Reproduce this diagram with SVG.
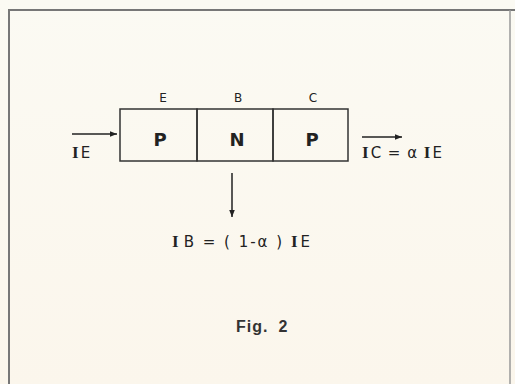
<svg xmlns="http://www.w3.org/2000/svg" width="515" height="384" viewBox="0 0 515 384">
<defs>
<marker id="ah" viewBox="0 0 10 10" refX="10" refY="5" markerWidth="11" markerHeight="7" markerUnits="userSpaceOnUse" orient="auto">
<path d="M0,1 L10,5 L0,9 Z" fill="#222"/>
</marker>
<linearGradient id="bg" x1="0" y1="0" x2="0" y2="1">
<stop offset="0" stop-color="#fbfaf3"/>
<stop offset="1" stop-color="#fbf6ec"/>
</linearGradient>
</defs>
<style>
.cell{fill:none;stroke:#333;stroke-width:1.5}
.big{font-family:"DejaVu Sans",sans-serif;font-weight:bold;font-size:18px;fill:#222;text-anchor:middle}
.lab{font-family:"DejaVu Sans",sans-serif;font-size:12px;fill:#222;text-anchor:middle}
.cur{font-family:"DejaVu Sans",sans-serif;font-size:15px;fill:#222;letter-spacing:1px}
.i{font-family:"Liberation Serif",serif;font-weight:bold;font-size:17px}
.fig{font-family:"Liberation Sans",sans-serif;font-weight:bold;font-size:16px;fill:#333}
.conn{stroke:#222;stroke-width:1.5;fill:none}
</style>
<rect x="0" y="0" width="515" height="384" fill="url(#bg)"/>
<path d="M9,384 V10 H515" fill="none" stroke="#777" stroke-width="2"/>
<path d="M510,10 V384" fill="none" stroke="#999" stroke-width="1.5"/>
<g id="E">
<rect class="cell" x="120" y="109" width="77" height="52"/>
<text class="big" x="160" y="146">P</text>
<text class="lab" x="163" y="102">E</text>
</g>
<g id="B">
<rect class="cell" x="197" y="109" width="76" height="52"/>
<text class="big" x="237" y="146">N</text>
<text class="lab" x="238" y="102">B</text>
</g>
<g id="C">
<rect class="cell" x="273" y="109" width="75" height="52"/>
<text class="big" x="312" y="146">P</text>
<text class="lab" x="313" y="102">C</text>
</g>
<g id="connectors">
<line class="conn" x1="72" y1="134" x2="117" y2="134" marker-end="url(#ah)"/>
<line class="conn" x1="362" y1="137" x2="402" y2="137" marker-end="url(#ah)"/>
<line class="conn" x1="232" y1="173" x2="232" y2="217" marker-end="url(#ah)"/>
</g>
<g id="labels">
<text class="cur" x="72" y="158"><tspan class="i">I</tspan><tspan dx="1">E</tspan></text>
<text class="cur" x="362" y="158"><tspan class="i">I</tspan><tspan dx="1">C = α </tspan><tspan class="i">I</tspan><tspan dx="1">E</tspan></text>
<text class="cur" x="172" y="247" style="letter-spacing:2px"><tspan class="i">I</tspan><tspan dx="3">B = ( 1-α ) </tspan><tspan class="i">I</tspan><tspan dx="1">E</tspan></text>
<text class="fig" x="236" y="332" style="letter-spacing:1px">Fig.<tspan dx="10">2</tspan></text>
</g>
</svg>
